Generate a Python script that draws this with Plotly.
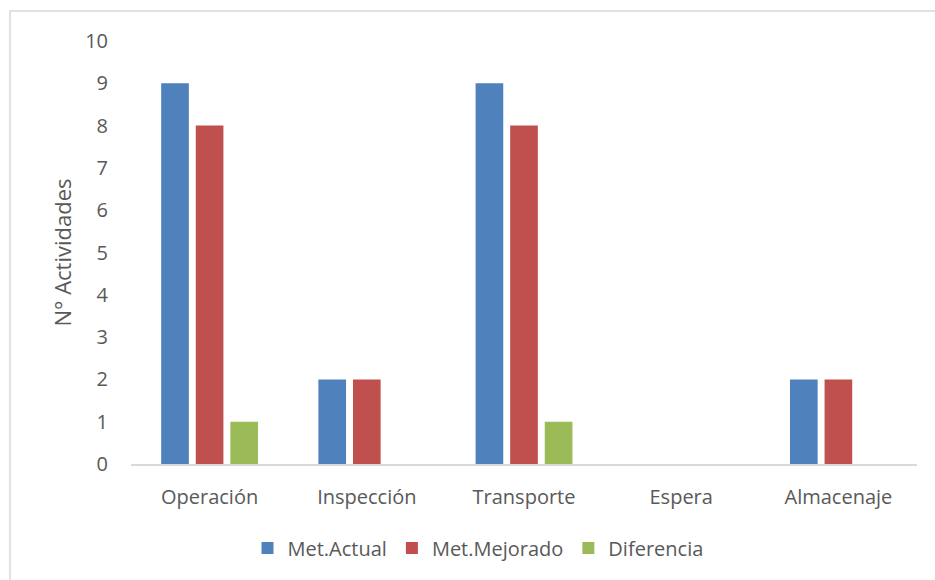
import plotly.graph_objects as go

categories = ["Operación", "Inspección", "Transporte", "Espera", "Almacenaje"]
met_actual = [9, 2, 9, 0, 2]
met_mejorado = [8, 2, 8, 0, 2]
diferencia = [1, 0, 1, 0, 0]

series = [
    ("Met.Actual", met_actual, "#4F81BD"),
    ("Met.Mejorado", met_mejorado, "#C0504D"),
    ("Diferencia", diferencia, "#9BBB59"),
]

text_color = "#595959"
font_family = "Open Sans"

fig = go.Figure()
for name, values, color in series:
    fig.add_trace(go.Bar(
        x=categories, y=values, name=name,
        marker=dict(color=color, line=dict(width=0)),
    ))

# plot area in pixels: left 131, right 917, top 41, bottom 464
L, R, T, B = 131, 917, 41, 464
W, H = 935, 580

def px_x(p):
    return (p - L) / (R - L)

def px_y(p):
    return (B - p) / (B - T)

fig.update_layout(
    width=W, height=H,
    margin=dict(l=L, r=W - R, t=T, b=H - B),
    paper_bgcolor="white", plot_bgcolor="white",
    barmode="group", bargap=0.34, bargroupgap=0.2,
    font=dict(family=font_family, size=20, color=text_color),
    showlegend=True,
    legend=dict(
        orientation="h", x=px_x(478), xanchor="center",
        y=px_y(548), yanchor="middle",
        font=dict(size=20, color=text_color),
        itemwidth=30, traceorder="normal",
    ),
    xaxis=dict(
        showgrid=False, showline=True, linecolor="#D9D9D9", linewidth=1.5,
        ticks="", ticklabelstandoff=14,
        tickfont=dict(size=20, color=text_color),
    ),
    yaxis=dict(
        range=[0, 10], dtick=1, showgrid=False, showline=False,
        zeroline=False, ticks="", ticklabelstandoff=22,
        tickfont=dict(size=20, color=text_color),
        title=dict(text="N° Actividades", font=dict(size=22, color=text_color), standoff=7),
    ),
    shapes=[dict(
        type="rect", xref="paper", yref="paper",
        x0=px_x(10), x1=px_x(945), y0=px_y(590), y1=px_y(11),
        line=dict(color="#D9D9D9", width=1.5), fillcolor="rgba(0,0,0,0)",
        layer="below",
    )],
)

fig.write_html("out.html")
